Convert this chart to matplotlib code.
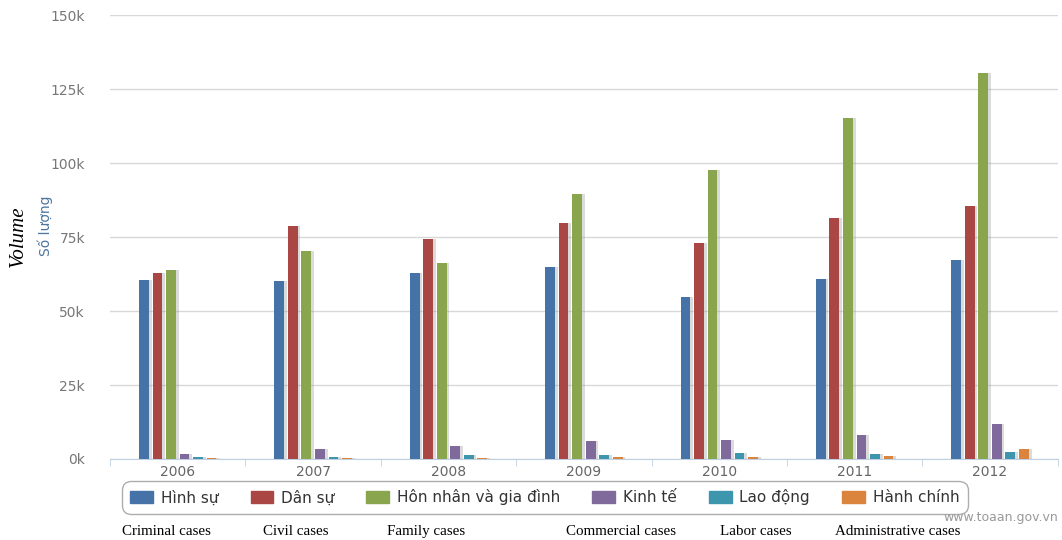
import matplotlib
matplotlib.use("Agg")
import matplotlib.pyplot as plt
import matplotlib.patheffects as pe
from matplotlib.patches import Patch
import numpy as np

years = ["2006", "2007", "2008", "2009", "2010", "2011", "2012"]
series_names = ["Hình sự", "Dân sự", "Hôn nhân và gia đình", "Kinh tế", "Lao động", "Hành chính"]
english_names = ["Criminal cases", "Civil cases", "Family cases", "Commercial cases", "Labor cases", "Administrative cases"]

hinh_su = [60.5, 60.2, 63.0, 65.0, 54.8, 60.8, 67.1]
dan_su = [63.0, 78.6, 74.3, 79.6, 73.0, 81.3, 85.5]
hon_nhan = [63.8, 70.2, 66.2, 89.5, 97.6, 115.2, 130.5]
kinh_te = [1.6, 3.5, 4.5, 6.1, 6.5, 8.0, 11.7]
lao_dong = [0.7, 0.7, 1.3, 1.3, 2.1, 1.8, 2.5]
hanh_chinh = [0.5, 0.5, 0.5, 0.6, 0.6, 1.1, 3.4]

colors = ["#4572A7", "#AA4643", "#89A54E", "#80699B", "#3D96AE", "#DB843D"]
data = [hinh_su, dan_su, hon_nhan, kinh_te, lao_dong, hanh_chinh]

fig = plt.figure(figsize=(10.62, 5.40), dpi=100)
ax = fig.add_axes([0.1036, 0.15, 0.8924, 0.822])

x = np.arange(len(years))
step = 0.1
width = 0.072
shadow = [pe.SimplePatchShadow(offset=(2, 0), shadow_rgbFace="#999999", alpha=0.35), pe.Normal()]
for k, vals in enumerate(data):
    bars = ax.bar(x + (k - 2.5) * step, vals, width, color=colors[k], zorder=3)
    for b in bars:
        b.set_path_effects(shadow)

ax.set_xlim(-0.5, 6.5)
ax.set_ylim(0, 150)
ax.set_yticks(np.arange(0, 151, 25))
ax.set_yticklabels([f"{v}k" for v in range(0, 151, 25)])
ax.yaxis.grid(True, color="#D8D8D8", lw=1, zorder=0)
ax.set_axisbelow(True)
ax.tick_params(axis="y", length=0, pad=18, labelsize=10, labelcolor="#777777")

ax.set_xticks(x)
ax.set_xticklabels(years)
ax.set_xticks(np.arange(-0.5, 7, 1), minor=True)
ax.tick_params(axis="x", which="major", length=0, pad=4, labelsize=10, labelcolor="#666666")
ax.tick_params(axis="x", which="minor", length=5, color="#C0D0E0")

for s in ["top", "right", "left"]:
    ax.spines[s].set_visible(False)
ax.spines["bottom"].set_color("#C0D0E0")

fig.text(0.043, 1 - 226 / 540, "Số lượng", rotation=90, ha="center", va="center",
         fontsize=10, color="#4D759E")
fig.text(0.017, 1 - 236 / 540, "Volume", rotation=90, ha="center", va="center",
         fontsize=15, family="Liberation Serif", style="italic", color="black")

handles = [Patch(facecolor=c, edgecolor=c) for c in colors]
leg = fig.legend(handles, series_names, loc="center", bbox_to_anchor=(0.513, 0.079),
                 ncol=6, frameon=True, fontsize=11, handlelength=1.5, handleheight=0.9,
                 handletextpad=0.5, columnspacing=2.1, borderpad=0.35)
for t in leg.get_texts():
    t.set_color("#333333")
frame = leg.get_frame()
frame.set_edgecolor("#999999")
frame.set_linewidth(1)
frame.set_boxstyle("round,pad=0.2,rounding_size=0.6")

eng_x = [122, 263, 387, 566, 720, 835]
for name, px in zip(english_names, eng_x):
    fig.text(px / 1062, 1 - 535 / 540, name, ha="left", va="baseline",
             fontsize=10.8, family="Liberation Serif", color="black")

fig.text(0.996, 1 - 517 / 540, "www.toaan.gov.vn", ha="right", va="center",
         fontsize=9, color="#999999")

fig.savefig("out.png", dpi=100)
